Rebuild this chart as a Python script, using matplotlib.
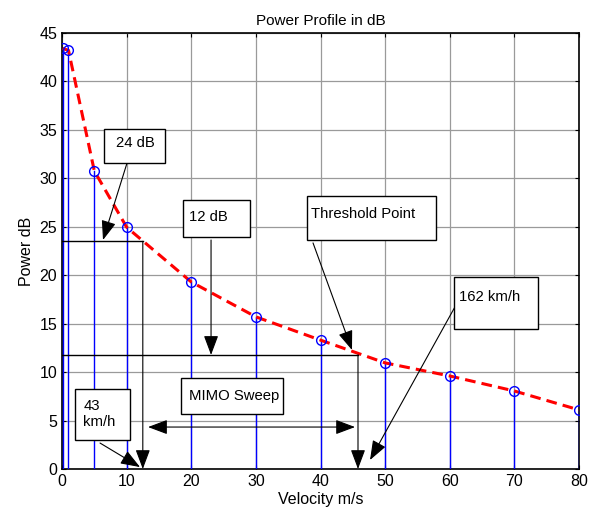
import numpy as np
import matplotlib.pyplot as plt

plt.rcParams['font.family'] = ['Liberation Sans', 'DejaVu Sans']

# velocidad (m/s) y potencia (dB)
velocidad = [0.1, 1, 5, 10, 20, 30, 40, 50, 60, 70, 80]
potencia = [43.4, 43.2, 30.75, 24.95, 19.3, 15.7, 13.3, 10.95, 9.6, 8.05, 6.1]

x_ticks = [0, 10, 20, 30, 40, 50, 60, 70, 80]
y_ticks = [0, 5, 10, 15, 20, 25, 30, 35, 40, 45]

fig = plt.figure(figsize=(5.93, 5.15), dpi=100)
ax = fig.add_axes([0.1046, 0.0893, 0.8718, 0.8468])

# stems azules
for v, p in zip(velocidad, potencia):
    ax.plot([v, v], [0, p], color='blue', lw=1, zorder=3)
ax.plot(velocidad, potencia, 'o', mfc='none', mec='blue', ms=7, mew=1, zorder=5)
ax.plot(velocidad, potencia, '--', color='red', lw=2.2, dashes=(3.5, 2), zorder=4)

ax.set_xlim(0, 80)
ax.set_ylim(0, 45)
ax.set_xticks(x_ticks)
ax.set_yticks(y_ticks)
ax.tick_params(direction='in', top=True, right=True, labelsize=11.5, length=3)
ax.grid(True, color='#9a9a9a', lw=0.9)
ax.set_axisbelow(True)
for s in ax.spines.values():
    s.set_linewidth(1.2)

ax.set_title('Power Profile in dB', fontsize=11)
ax.set_xlabel('Velocity m/s', fontsize=11.5, labelpad=2)
ax.set_ylabel('Power dB', fontsize=11.5)

arrow = dict(arrowstyle='-|>,head_length=0.8,head_width=0.3', color='black', lw=0.8,
             mutation_scale=15, shrinkA=0, shrinkB=0)

# 24 dB: linea horizontal y bajada
ax.plot([0, 12.5], [23.5, 23.5], color='black', lw=1, zorder=6)
ax.annotate('', xy=(12.5, 0), xytext=(12.5, 23.5), arrowprops=arrow, zorder=6)
# 12 dB
ax.plot([0, 45.8], [11.77, 11.77], color='black', lw=1, zorder=6)
ax.annotate('', xy=(45.8, 0), xytext=(45.8, 11.77), arrowprops=arrow, zorder=6)

def caja(x0, x1, y0, y1, texto, tx=None, ty=None):
    ax.add_patch(plt.Rectangle((x0, y0), x1 - x0, y1 - y0, fc='white', ec='black',
                               lw=1, zorder=7))
    if tx is None:
        tx = x0 + 1.2
    if ty is None:
        ty = (y0 + y1) / 2
    ax.text(tx, ty, texto, fontsize=10.7, va='center', ha='left', zorder=8)

caja(6.5, 15.94, 31.58, 35.09, '24 dB', tx=8.4, ty=33.6)
ax.annotate('', xy=(6.34, 23.63), xytext=(10.06, 31.58), arrowprops=arrow, zorder=6)

caja(18.72, 29.09, 23.94, 27.76, '12 dB', tx=19.6, ty=26.0)
ax.annotate('', xy=(23.06, 11.77), xytext=(23.06, 23.63), arrowprops=arrow, zorder=6)

caja(37.9, 57.9, 23.63, 28.18, 'Threshold Point', tx=38.5, ty=26.3)
ax.annotate('', xy=(44.87, 12.28), xytext=(38.84, 23.33), arrowprops=arrow, zorder=6)

caja(60.66, 73.66, 14.45, 19.82, '162 km/h', tx=61.4, ty=17.8)
ax.annotate('', xy=(47.66, 0.93), xytext=(60.97, 16.93), arrowprops=arrow, zorder=6)

caja(18.41, 34.2, 5.68, 9.39, 'MIMO Sweep', tx=19.6)
ax.annotate('', xy=(13.31, 4.33), xytext=(45.34, 4.33),
            arrowprops=dict(arrowstyle='<|-|>,head_length=0.8,head_width=0.3', color='black',
                            lw=0.8, mutation_scale=15, shrinkA=0, shrinkB=0), zorder=6)

caja(2.01, 10.52, 2.99, 8.26, '43\nkm/h', tx=3.3, ty=5.7)
ax.annotate('', xy=(12.07, 0.2), xytext=(5.88, 2.68), arrowprops=arrow, zorder=6)

fig.savefig('out.png', dpi=100)
